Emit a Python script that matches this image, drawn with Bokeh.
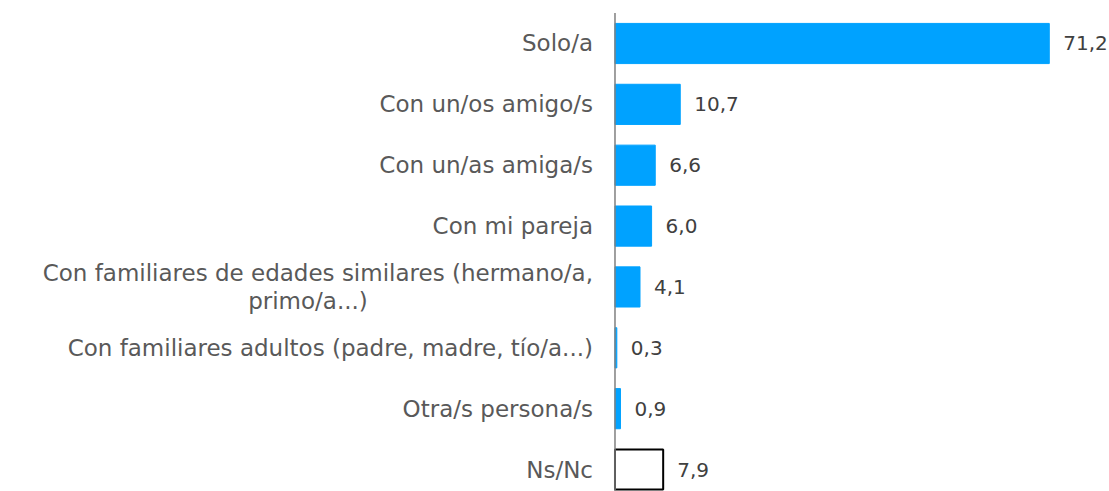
from bokeh.plotting import figure
from bokeh.models import Range1d, ColumnDataSource
from bokeh.core.properties import value
from bokeh.embed import file_html
from bokeh.resources import INLINE

categories = [
    "Solo/a",
    "Con un/os amigo/s",
    "Con un/as amiga/s",
    "Con mi pareja",
    "Con familiares de edades similares (hermano/a,\nprimo/a...)",
    "Con familiares adultos (padre, madre, tío/a...)",
    "Otra/s persona/s",
    "Ns/Nc",
]
values = [71.2, 10.7, 6.6, 6.0, 4.1, 0.3, 0.9, 7.9]
value_labels = ["71,2", "10,7", "6,6", "6,0", "4,1", "0,3", "0,9", "7,9"]

FONT = "DejaVu Sans"
CAT_FS = "23px"
VAL_FS = "20px"
BLUE = "#00A2FF"

n = len(categories)
ys = list(range(n))
fills = [BLUE] * (n - 1) + ["white"]
lines = [BLUE] * (n - 1) + ["black"]
lws = [1] * (n - 1) + [2]

p = figure(width=1109, height=491, output_backend="svg", toolbar_location=None,
           x_axis_type=None, y_axis_type=None, min_border=0,
           x_range=Range1d(-100.74, 81.07), y_range=Range1d(7.361, -0.7065))
p.outline_line_color = None
p.grid.visible = False
p.background_fill_color = "white"

src = ColumnDataSource(dict(y=ys, v=values, fill=fills, line=lines, lw=lws,
                            lab=value_labels))
p.hbar(y="y", left=0, right="v", height=0.66, source=src, fill_color="fill",
       line_color="line", line_width="lw")

# axis line
p.segment(x0=[0], x1=[0], y0=[-0.5], y1=[n], line_color="#808080", line_width=1.5)

# value labels
p.text(x="v", y="y", text="lab", source=src, x_offset=14, text_align="left",
       text_baseline="middle", text_font=value(FONT), text_font_size=VAL_FS,
       text_color="#404040")

# category labels
single_y, single_t = [], []
multi_first_y, multi_first_t, multi_second_y, multi_second_t = [], [], [], []
for i, c in enumerate(categories):
    parts = c.split("\n")
    if len(parts) == 1:
        single_y.append(i); single_t.append(c)
    else:
        multi_first_y.append(i); multi_first_t.append(parts[0])
        multi_second_y.append(i); multi_second_t.append(parts[1])

p.text(x=0, y=single_y, text=single_t, x_offset=-22, text_align="right",
       text_baseline="middle", text_font=value(FONT), text_font_size=CAT_FS,
       text_color="#595959")
p.text(x=0, y=multi_first_y, text=multi_first_t, x_offset=-22, y_offset=-14,
       text_align="right", text_baseline="middle", text_font=value(FONT),
       text_font_size=CAT_FS, text_color="#595959")
p.text(x=0, y=multi_second_y, text=multi_second_t, x_offset=-307, y_offset=14,
       text_align="center", text_baseline="middle", text_font=value(FONT),
       text_font_size=CAT_FS, text_color="#595959")

open("out.html", "w").write(file_html(p, INLINE))
